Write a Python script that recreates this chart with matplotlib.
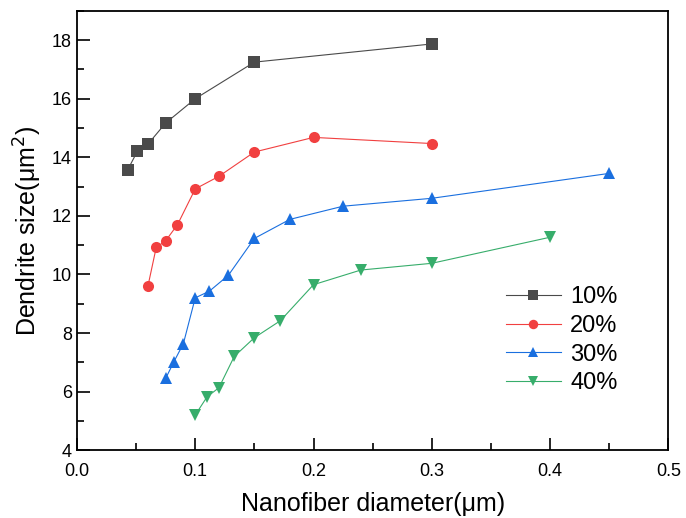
import matplotlib
matplotlib.use('Agg')
import matplotlib.pyplot as plt
from matplotlib.ticker import MultipleLocator

plt.rcParams['font.family'] = ['Liberation Sans', 'DejaVu Sans']

labels = ['10%', '20%', '30%', '40%']

x10 = [0.043, 0.051, 0.06, 0.075, 0.1, 0.15, 0.3]
y10 = [13.58, 14.2, 14.45, 15.17, 16.0, 17.25, 17.87]

x20 = [0.06, 0.067, 0.075, 0.085, 0.1, 0.12, 0.15, 0.2, 0.3]
y20 = [9.6, 10.92, 11.15, 11.7, 12.92, 13.35, 14.18, 14.68, 14.47]

x30 = [0.075, 0.082, 0.09, 0.1, 0.112, 0.128, 0.15, 0.18, 0.225, 0.3, 0.45]
y30 = [6.45, 7.02, 7.64, 9.2, 9.43, 9.97, 11.23, 11.88, 12.33, 12.6, 13.45]

x40 = [0.1, 0.11, 0.12, 0.133, 0.15, 0.172, 0.2, 0.24, 0.3, 0.4]
y40 = [5.2, 5.82, 6.13, 7.2, 7.84, 8.42, 9.65, 10.15, 10.38, 11.27]

colors = ['#4a4a4a', '#f14040', '#1a6fdf', '#37ad6b']
markers = ['s', 'o', '^', 'v']

fig = plt.figure(figsize=(6.86, 5.18), dpi=100)
ax = fig.add_axes([0.1122, 0.131, 0.862, 0.848])

for xs, ys, c, m, lab in zip([x10, x20, x30, x40], [y10, y20, y30, y40],
                             colors, markers, labels):
    ax.plot(xs, ys, color=c, lw=0.8, marker=m, markersize=8,
            markeredgewidth=0, label=lab)

ax.set_xlim(0, 0.5)
ax.set_ylim(4, 19)
ax.xaxis.set_major_locator(MultipleLocator(0.1))
ax.xaxis.set_minor_locator(MultipleLocator(0.05))
ax.yaxis.set_major_locator(MultipleLocator(2))
ax.yaxis.set_minor_locator(MultipleLocator(1))
ax.tick_params(which='both', direction='in', labelsize=13, width=1.2)
ax.tick_params(which='major', length=9)
ax.tick_params(which='minor', length=5)
ax.tick_params(axis='x', pad=9)
for s in ax.spines.values():
    s.set_linewidth(1.3)

ax.set_xlabel('Nanofiber diameter(\u03bcm)', fontsize=18, labelpad=9)
ax.set_ylabel('Dendrite size(\u03bcm$^2$)', fontsize=18, labelpad=6)

ax.legend(loc='center', bbox_to_anchor=(0.82, 0.25), frameon=False,
          fontsize=17, handlelength=2.3, labelspacing=0.28, handletextpad=0.4,
          markerscale=0.85)

fig.savefig('out.png', dpi=100)
